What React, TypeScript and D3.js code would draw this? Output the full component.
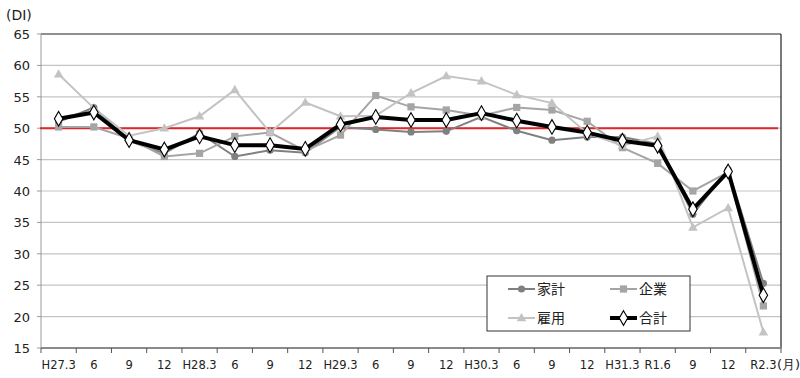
import React from "react";
import * as d3 from "d3";

const categories = ["H27.3","6","9","12","H28.3","6","9","12","H29.3","6","9","12","H30.3","6","9","12","H31.3","R1.6","9","12","R2.3"];
const kakei = [51.0,53.3,48.0,46.0,49.2,45.5,46.5,46.1,50.2,49.8,49.4,49.5,51.8,49.6,48.1,48.6,48.6,47.5,36.3,43.4,25.3];
const kigyo = [50.2,50.2,48.4,45.5,46.0,48.7,49.3,46.4,48.9,55.2,53.4,52.9,52.0,53.3,52.9,51.1,46.9,44.4,40.0,43.0,21.7];
const koyo = [58.6,53.2,48.8,50.0,51.9,56.1,49.3,54.1,51.9,52.0,55.6,58.3,57.5,55.3,54.0,49.2,47.2,48.7,34.2,37.3,17.5];
const gokei = [51.5,52.5,48.1,46.6,48.7,47.3,47.3,46.7,50.6,51.8,51.3,51.3,52.4,51.2,50.2,49.3,48.0,47.2,37.1,43.1,23.4];
const yTicks = [65,60,55,50,45,40,35,30,25,20,15];

const W = 800, H = 378;
const L = 41, R = 781, T = 34, B = 348;
const FONT = "'DejaVu Sans', Verdana, sans-serif";

export default function App() {
  const x = d3.scaleBand<number>().domain(d3.range(categories.length)).range([L, R]);
  const y = d3.scaleLinear().domain([15, 65]).range([B, T]);
  const cx = (i: number) => (x(i) as number) + x.bandwidth() / 2;
  const line = d3.line<number>().x((_, i) => cx(i)).y((d) => y(d));
  const tri = d3.symbol().type(d3.symbolTriangle).size(40)();
  const dia = d3.symbol().type(d3.symbolDiamond).size(62)();

  const series = [
    { name: "家計", data: kakei, color: "#808080", w: 2, marker: "circle" },
    { name: "企業", data: kigyo, color: "#a5a5a5", w: 2, marker: "square" },
    { name: "雇用", data: koyo, color: "#c3c3c3", w: 2, marker: "tri" },
  ];

  const marker = (m: string, px: number, py: number, color: string, key: string) => {
    if (m === "circle") return <circle key={key} cx={px} cy={py} r={3.6} fill={color} />;
    if (m === "square") return <rect key={key} x={px - 3.6} y={py - 3.6} width={7.2} height={7.2} fill={color} />;
    if (m === "tri") return <path key={key} d={tri as string} transform={`translate(${px},${py + 0.5})`} fill={color} />;
    return <path key={key} d={dia as string} transform={`translate(${px},${py})`} fill="#fff" stroke="#000" strokeWidth={1.1} />;
  };

  const legendItems = [
    { name: "家計", color: "#808080", w: 2, m: "circle", lx: 508, ly: 289 },
    { name: "企業", color: "#a5a5a5", w: 2, m: "square", lx: 610, ly: 289 },
    { name: "雇用", color: "#c3c3c3", w: 2, m: "tri", lx: 508, ly: 318 },
    { name: "合計", color: "#000", w: 4, m: "dia", lx: 610, ly: 318 },
  ];

  return (
    <svg width={W} height={H} style={{ position: "absolute", left: 0, top: 0, background: "#fff" }} fontFamily={FONT}>
      <rect width={W} height={H} fill="#fff" />
      {yTicks.filter((t) => t !== 65 && t !== 15).map((t) => (
        <line key={t} x1={L} x2={R} y1={y(t)} y2={y(t)} stroke="#c4c4c4" strokeWidth={1.2} />
      ))}
      <line x1={L} x2={R} y1={y(65)} y2={y(65)} stroke="#222" strokeWidth={1.2} />
      <line x1={R} x2={R} y1={T} y2={B} stroke="#222" strokeWidth={1.2} />
      <line x1={L} x2={L} y1={T} y2={B} stroke="#9a9a9a" strokeWidth={1} />
      {yTicks.map((t) => (
        <g key={"yt" + t}>
          <line x1={L - 4} x2={L} y1={y(t)} y2={y(t)} stroke="#9a9a9a" />
          <text x={30} y={y(t) + 5} textAnchor="end" fontSize={13} fill="#222">{t}</text>
        </g>
      ))}
      <line x1={L} x2={R} y1={B} y2={B} stroke="#8a8a8a" strokeWidth={2} />
      {d3.range(categories.length + 1).map((i) => {
        const px = i < categories.length ? (x(i) as number) : R;
        return <line key={"xt" + i} x1={px} x2={px} y1={B} y2={B + 5} stroke="#555" strokeWidth={1} />;
      })}
      {categories.map((c, i) => (
        <text key={"xl" + i} x={cx(i)} y={369} textAnchor="middle" fontSize={11.5} fill="#222">{c}</text>
      ))}
      <text x={777} y={369} fontSize={13} fill="#222">(月)</text>
      <text x={6} y={20} fontSize={14} fill="#222">(DI)</text>

      <line x1={L - 1} x2={R - 3} y1={y(50)} y2={y(50)} stroke="#e0262b" strokeWidth={2} />

      {series.map((s) => (
        <g key={s.name}>
          <path d={line(s.data) as string} fill="none" stroke={s.color} strokeWidth={s.w} />
          {s.data.map((v, i) => marker(s.marker, cx(i), y(v), s.color, s.name + i))}
        </g>
      ))}
      <path d={line(gokei) as string} fill="none" stroke="#000" strokeWidth={4} strokeLinejoin="round" />
      {gokei.map((v, i) => marker("dia", cx(i), y(v), "#000", "g" + i))}

      <rect x={487} y={276} width={203} height={55} fill="#fff" stroke="#333" strokeWidth={1} />
      {legendItems.map((it) => (
        <g key={"lg" + it.name}>
          <line x1={it.lx} x2={it.lx + 27} y1={it.ly} y2={it.ly} stroke={it.color} strokeWidth={it.w} />
          {marker(it.m, it.lx + 13.5, it.ly, it.color, "lm" + it.name)}
          <text x={it.lx + 29} y={it.ly + 5} fontSize={14} fill="#222" fontFamily="'Noto Sans CJK JP', sans-serif">{it.name}</text>
        </g>
      ))}
    </svg>
  );
}
